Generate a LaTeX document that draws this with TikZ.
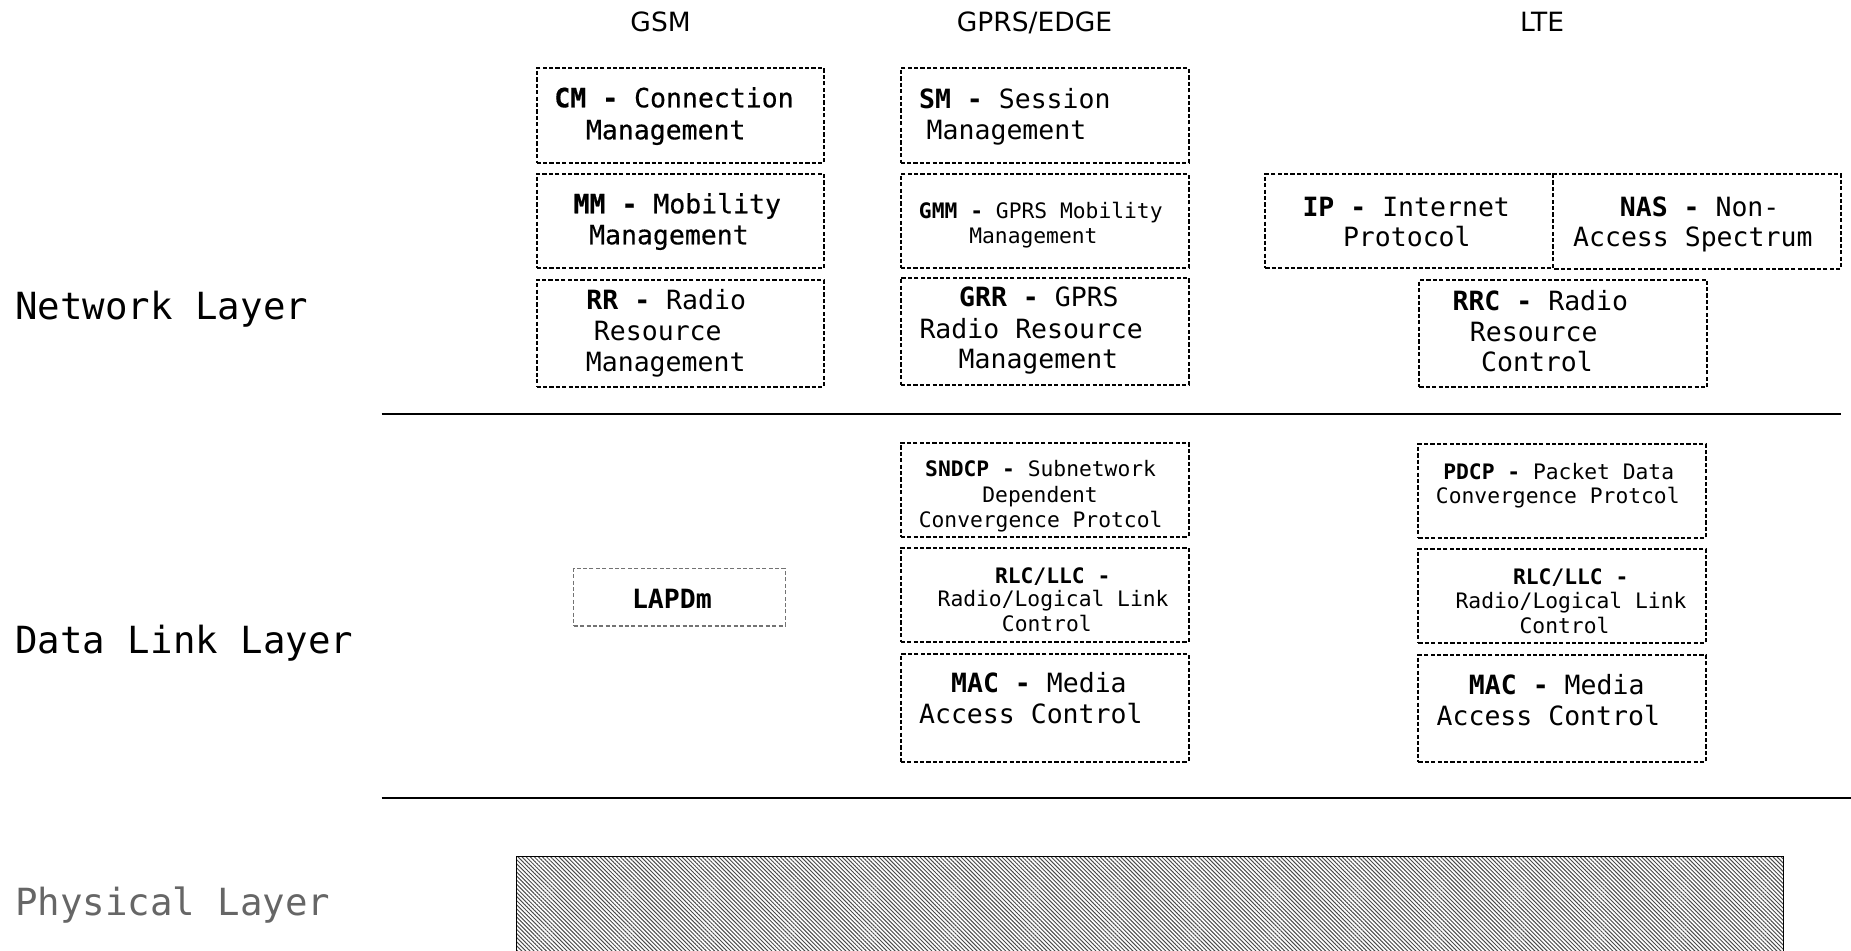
\documentclass[tikz,border=0pt]{standalone}
\usepackage{fontspec}
\setmainfont{DejaVu Sans}
\setmonofont{DejaVu Sans Mono}
\newfontfamily\heavymono[FakeBold=0.5]{DejaVu Sans Mono}
\usetikzlibrary{patterns.meta}

\tikzset{
  protoline/.style={line width=1pt, dash pattern=on 2.1pt off 1.1pt},
  proto/.style={draw, protoline, inner sep=0pt},
  lapd/.style={draw=black!55, line width=0.6pt, dash pattern=on 2pt off 1.2pt, inner sep=0pt},
  sized/.style 2 args={minimum width=#1*0.5pt, minimum height=#2*0.5pt},
  mtxt/.style={anchor=base, inner sep=0pt, font=\fontsize{13.25}{15}\ttfamily},
  htxt/.style={anchor=base, inner sep=0pt, font=\fontsize{13.25}{15}\heavymono},
  stxt/.style={anchor=base, inner sep=0pt, font=\fontsize{10.65}{12.5}\ttfamily},
  head/.style={anchor=base, inner sep=0pt, font=\fontsize{13.25}{15}\selectfont},
  layer/.style={anchor=base, inner sep=0pt, font=\fontsize{18.7}{22}\ttfamily},
  divider/.style={line width=1pt},
  phys/.style={draw, line width=0.7pt,
    pattern={Lines[angle=-45, distance=1.45pt, line width=0.5pt]}, pattern color=black!70}
}

\begin{document}
\begin{tikzpicture}[x=0.5pt, y=-0.5pt]
\useasboundingbox (0,0) rectangle (1851,950);
\clip (0,0) rectangle (1851,950);

% column headings
\node[head] (gsm)  at (660.6,31.7)  {GSM};
\node[head] (gprs) at (1034.5,31.7) {GPRS/EDGE};
\node[head] (lte)  at (1542,31.7)   {LTE};

% layer names
\node[layer] (netl)  at (161.7,319.4) {Network Layer};
\node[layer] (dll)   at (184.3,653)   {Data Link Layer};
\node[layer, text=black!60] (phyl) at (172.8,915.8) {Physical Layer};

% layer separators
\draw[divider] (381.6,414) -- (1840.7,414);
\draw[divider] (381.6,798) -- (1851,798);

% ---------- GSM network layer ----------
\node[proto, sized={287.5}{94.4}] (cm) at (680.25,115.5) {};
\node[htxt] (cm1) at (674,107.3) {\textbf{CM -} Connection};
\node[htxt] (cm2) at (665.7,139.3) {Management};

\node[proto, sized={287.5}{94.3}] (mm) at (680.25,221.15) {};
\node[htxt] (mm1) at (677.3,213.3) {\textbf{MM -} Mobility};
\node[htxt] (mm2) at (668.9,244.3) {Management};

\node[proto, sized={287.5}{106.7}] (rr) at (680.25,333.35) {};
\node[mtxt] (rr1) at (666.2,309.3) {\textbf{RR -} Radio};
\node[mtxt] (rr2) at (657.8,340.7) {Resource};
\node[mtxt] (rr3) at (665.7,371.7) {Management};

% ---------- GPRS/EDGE network layer ----------
\node[proto, sized={288}{94.4}] (sm) at (1044.6,115.5) {};
\node[mtxt] (sm1) at (1014.8,108.3) {\textbf{SM -} Session};
\node[mtxt] (sm2) at (1006.5,139.3) {Management};

\node[proto, sized={288}{94.3}] (gmm) at (1044.6,221.15) {};
\node[stxt] (gmm1) at (1040.8,218.3) {\textbf{GMM -} GPRS Mobility};
\node[stxt] (gmm2) at (1033.4,243.3) {Management};

\node[proto, sized={288}{107.3}] (grr) at (1044.6,331.35) {};
\node[mtxt] (grr1) at (1038.9,306) {\textbf{GRR -} GPRS};
\node[mtxt] (grr2) at (1031.2,338.3) {Radio Resource};
\node[mtxt] (grr3) at (1038.4,368.3) {Management};

% ---------- LTE network layer ----------
\node[proto, sized={287.5}{94.3}] (ip) at (1409.05,221.15) {};
\node[mtxt] (ip1) at (1406.2,216) {\textbf{IP -} Internet};
\node[mtxt] (ip2) at (1406.8,246) {Protocol};

% NAS shares its left edge with IP, so only the other three sides are drawn
\node[inner sep=0pt, sized={287.5}{94.3}] (nas) at (1696.55,221.15) {};
\draw[protoline] (nas.north west) -- (nas.north east) -- (nas.south east) -- (nas.south west);
\node[mtxt] (nas1) at (1699.6,216) {\textbf{NAS -} Non-};
\node[mtxt] (nas2) at (1692.8,246) {Access Spectrum};

\node[proto, sized={287.9}{107.3}] (rrc) at (1563.35,333.65) {};
\node[mtxt] (rrc1) at (1540.3,310) {\textbf{RRC -} Radio};
\node[mtxt] (rrc2) at (1533.7,341.7) {Resource};
\node[mtxt] (rrc3) at (1537,371.7) {Control};

% ---------- GSM data link layer ----------
\node[lapd, sized={211.4}{57.7}] (lapdm) at (679.4,597.15) {};
\node[mtxt] (lapdm1) at (671.9,608.5) {\textbf{LAPDm}};

% ---------- GPRS/EDGE data link layer ----------
\node[proto, sized={287.7}{94}] (sndcp) at (1044.65,489.7) {};
\node[stxt] (sndcp1) at (1040.6,476.7) {\textbf{SNDCP -} Subnetwork};
\node[stxt] (sndcp2) at (1040.1,502.7) {Dependent};
\node[stxt] (sndcp3) at (1040.6,527.3) {Convergence Protcol};

\node[proto, sized={287.7}{94.3}] (rlcg) at (1044.65,594.85) {};
\node[stxt] (rlcg1) at (1052.7,583.3) {\textbf{RLC/LLC -}};
\node[stxt] (rlcg2) at (1053.1,606.7) {Radio/Logical Link};
\node[stxt] (rlcg3) at (1046.8,631.7) {Control};

\node[proto, sized={287.7}{107.7}] (macg) at (1044.65,707.85) {};
\node[mtxt] (macg1) at (1038.9,692.7) {\textbf{MAC -} Media};
\node[mtxt] (macg2) at (1030.8,723.3) {Access Control};

% ---------- LTE data link layer ----------
\node[proto, sized={287.7}{93.7}] (pdcp) at (1562.15,490.85) {};
\node[stxt] (pdcp1) at (1558.7,479.3) {\textbf{PDCP -} Packet Data};
\node[stxt] (pdcp2) at (1557.8,503.3) {Convergence Protcol};

\node[proto, sized={287.7}{93.7}] (rlcl) at (1562.15,595.85) {};
\node[stxt] (rlcl1) at (1570.7,584) {\textbf{RLC/LLC -}};
\node[stxt] (rlcl2) at (1571,608.3) {Radio/Logical Link};
\node[stxt] (rlcl3) at (1564.5,633.3) {Control};

\node[proto, sized={287.7}{106.7}] (macl) at (1562.15,708.35) {};
\node[mtxt] (macl1) at (1556.7,694) {\textbf{MAC -} Media};
\node[mtxt] (macl2) at (1548.3,725) {Access Control};

% ---------- physical layer ----------
\path[phys] (516.6,856.3) rectangle (1783.3,1000);
\end{tikzpicture}
\end{document}
